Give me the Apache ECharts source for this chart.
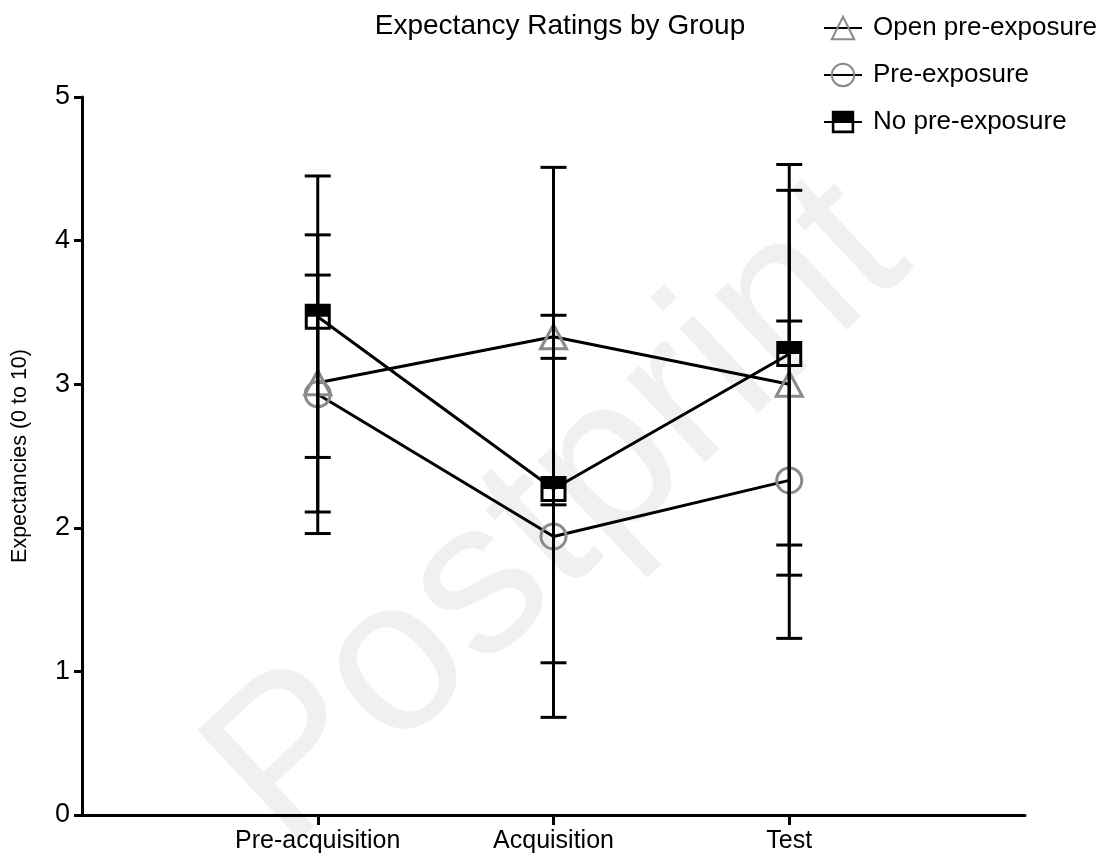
<!DOCTYPE html>
<html>
<head>
<meta charset="utf-8">
<script src="https://cdn.jsdelivr.net/npm/echarts@6/dist/echarts.min.js"></script>
<style>html,body{margin:0;padding:0;background:#fff}#c{width:1102px;height:857px}</style>
</head>
<body>
<div id="c"></div>
<script>
var categories = ['Pre-acquisition', 'Acquisition', 'Test'];
var groupNames = ['Open pre-exposure', 'Pre-exposure', 'No pre-exposure'];
var yTicks = [0, 1, 2, 3, 4, 5];

var openMean = [3.01, 3.33, 3.00];
var openLow  = [1.96, 2.16, 1.67];
var openHigh = [4.04, 4.51, 4.35];

var preMean = [2.93, 1.94, 2.33];
var preLow  = [2.11, 0.68, 1.23];
var preHigh = [3.76, 3.18, 3.44];

var noMean = [3.47, 2.27, 3.21];
var noLow  = [2.49, 1.06, 1.88];
var noHigh = [4.45, 3.48, 4.53];

var FONT = 'Liberation Sans, Arial, sans-serif';
var GRAY = '#8a8a8a';
var halfSquare = 'path://M0 0 L26 0 L26 26 L0 26 Z M3 13 L3 23 L23 23 L23 13 Z';

function pts(arr) { return arr.map(function (v, i) { return [i + 1, v]; }); }
function bars(lo, hi) { return lo.map(function (v, i) { return [i + 1, v, hi[i]]; }); }

function errSeries(lo, hi) {
  return {
    type: 'custom',
    z: 5,
    silent: true,
    data: bars(lo, hi),
    renderItem: function (params, api) {
      var x = api.value(0);
      var p1 = api.coord([x, api.value(1)]);
      var p2 = api.coord([x, api.value(2)]);
      var hw = 13;
      var st = { stroke: '#000', lineWidth: 3 };
      return {
        type: 'group',
        children: [
          { type: 'line', shape: { x1: p1[0], y1: p1[1], x2: p2[0], y2: p2[1] }, style: st },
          { type: 'line', shape: { x1: p1[0] - hw, y1: p1[1], x2: p1[0] + hw, y2: p1[1] }, style: st },
          { type: 'line', shape: { x1: p2[0] - hw, y1: p2[1], x2: p2[0] + hw, y2: p2[1] }, style: st }
        ]
      };
    }
  };
}

var chart = echarts.init(document.getElementById('c'), null, { renderer: 'canvas' });
chart.setOption({
  animation: false,
  backgroundColor: '#fff',
  title: {
    text: 'Expectancy Ratings by Group',
    left: 555, top: 7, textAlign: 'center',
    textStyle: { fontFamily: FONT, fontSize: 28, fontWeight: 'normal', color: '#000' }
  },
  graphic: [{
    type: 'text', x: 560, y: 515, rotation: 43 * Math.PI / 180, z: -10, silent: true,
    style: { text: 'Postprint', font: 'normal 218px ' + FONT, fill: '#f0f0f0', textAlign: 'center', textVerticalAlign: 'middle' }
  }],
  legend: {
    orient: 'vertical', left: 818, top: 10,
    itemWidth: 38, itemHeight: 28, itemGap: 21,
    textStyle: { fontFamily: FONT, fontSize: 26, color: '#000', padding: [0, 0, 0, 6] },
    data: groupNames
  },
  grid: { left: 82, right: 77, top: 97, bottom: 42, containLabel: false },
  xAxis: {
    type: 'value', min: 0, max: 4, interval: 1,
    splitLine: { show: false },
    axisLine: { lineStyle: { color: '#000', width: 3 } },
    axisTick: { customValues: [1, 2, 3], length: 10, lineStyle: { color: '#000', width: 3 } },
    axisLabel: {
      customValues: [1, 2, 3], margin: 14,
      fontFamily: FONT, fontSize: 25, color: '#000',
      formatter: function (v) { return categories[v - 1] || ''; }
    }
  },
  yAxis: {
    type: 'value', min: 0, max: 5, interval: 1,
    name: 'Expectancies (0 to 10)', nameLocation: 'middle', nameGap: 51,
    nameTextStyle: { fontFamily: FONT, fontSize: 21.5, color: '#000' },
    splitLine: { show: false },
    axisLine: { show: true, lineStyle: { color: '#000', width: 3 } },
    axisTick: { show: true, length: 8, lineStyle: { color: '#000', width: 3 } },
    axisLabel: {
      margin: 12, fontFamily: FONT, fontSize: 27, color: '#000',
      formatter: function (v) { return yTicks.indexOf(v) >= 0 ? String(v) : ''; }
    }
  },
  series: [
    {
      name: groupNames[0], type: 'line', data: pts(openMean), z: 3,
      symbol: 'triangle', symbolSize: [26, 24],
      lineStyle: { color: '#000', width: 3 },
      itemStyle: { color: 'rgba(255,255,255,0)', borderColor: GRAY, borderWidth: 3 }
    },
    {
      name: groupNames[1], type: 'line', data: pts(preMean), z: 3,
      symbol: 'circle', symbolSize: 25,
      lineStyle: { color: '#000', width: 3 },
      itemStyle: { color: 'rgba(255,255,255,0)', borderColor: GRAY, borderWidth: 3 }
    },
    {
      name: groupNames[2], type: 'line', data: pts(noMean), z: 4,
      symbol: halfSquare, symbolSize: 26,
      lineStyle: { color: '#000', width: 3 },
      itemStyle: { color: '#000', borderWidth: 0 }
    },
    errSeries(openLow, openHigh),
    errSeries(preLow, preHigh),
    errSeries(noLow, noHigh)
  ]
});
</script>
</body>
</html>
